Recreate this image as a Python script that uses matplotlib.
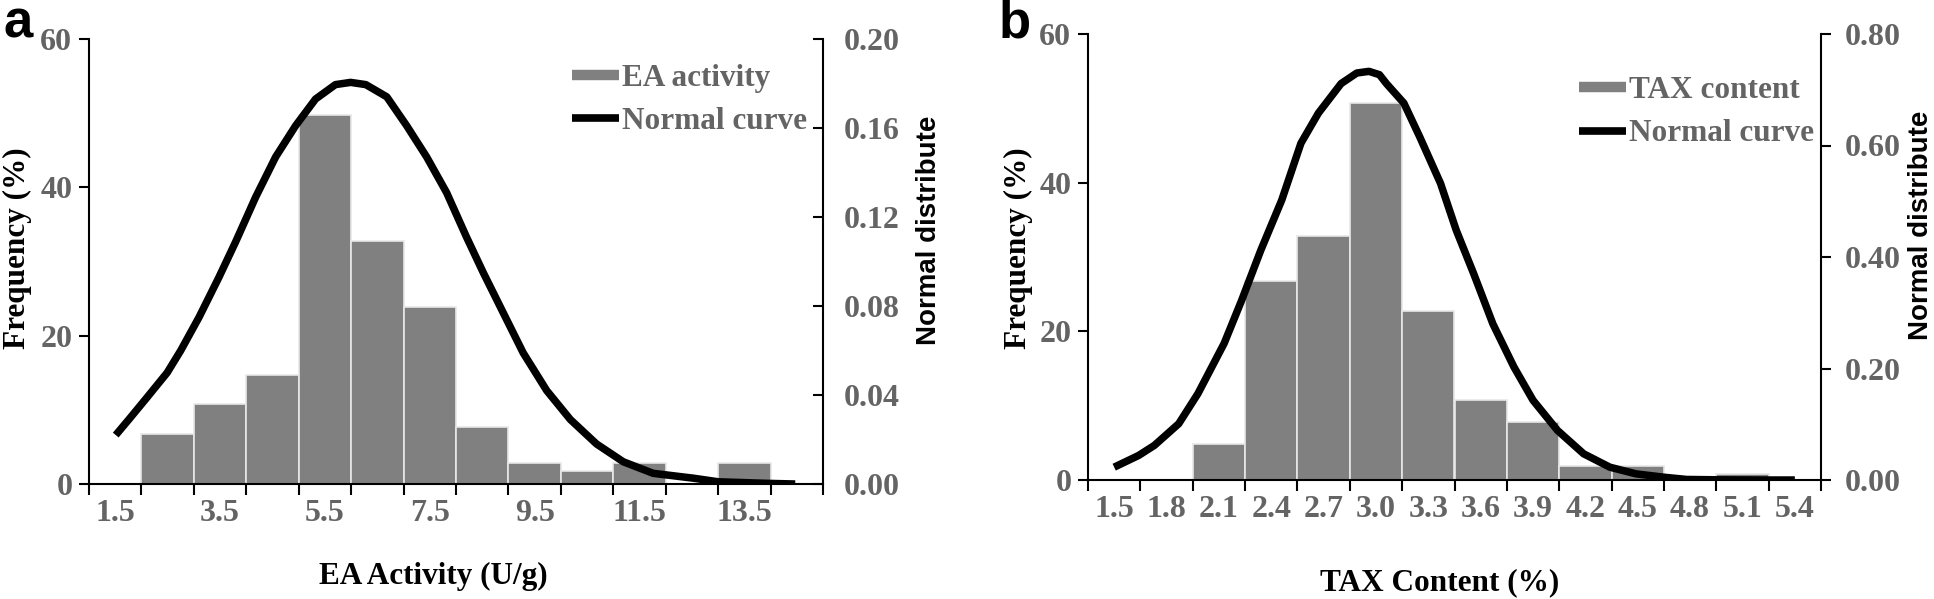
import numpy as np
import matplotlib
matplotlib.use("Agg")
import matplotlib.pyplot as plt
from matplotlib.lines import Line2D

# --- panel a: EA activity (bins of width 1, labelled at bin centres) ---
ea_bins = [1.5, 2.5, 3.5, 4.5, 5.5, 6.5, 7.5, 8.5, 9.5, 10.5, 11.5, 12.5, 13.5, 14.5]
ea_freq = [0, 6.7, 10.8, 14.7, 49.8, 32.8, 23.9, 7.7, 2.8, 1.8, 2.8, 0, 2.8, 0]
ea_labels = ["1.5", "3.5", "5.5", "7.5", "9.5", "11.5", "13.5"]
# normal curve
ea_curve_x = [1.51, 1.76, 2.11, 2.49, 2.75, 3.10, 3.48, 3.80, 4.18, 4.56, 4.94, 5.32,
              5.70, 5.99, 6.28, 6.68, 7.06, 7.44, 7.82, 8.20, 8.52, 8.90, 9.28, 9.73,
              10.18, 10.68, 11.19, 11.76, 12.53, 13.00, 13.93, 14.47]
ea_curve_y = [0.022, 0.029, 0.039, 0.050, 0.060, 0.075, 0.093, 0.109, 0.129, 0.147,
              0.161, 0.173, 0.1795, 0.1805, 0.1795, 0.174, 0.161, 0.147, 0.131, 0.111,
              0.095, 0.077, 0.059, 0.042, 0.029, 0.018, 0.010, 0.0048, 0.0026, 0.0010,
              0.0003, 0.0]

# --- panel b: TAX content (bins of width 0.3) ---
tax_bins = [1.5, 1.8, 2.1, 2.4, 2.7, 3.0, 3.3, 3.6, 3.9, 4.2, 4.5, 4.8, 5.1, 5.4]
tax_freq = [0, 0, 4.9, 26.8, 32.8, 50.7, 22.8, 10.8, 7.8, 1.9, 1.9, 0, 0.8, 0]
tax_labels = ["1.5", "1.8", "2.1", "2.4", "2.7", "3.0", "3.3", "3.6", "3.9",
              "4.2", "4.5", "4.8", "5.1", "5.4"]
tax_curve_x = [1.50, 1.64, 1.73, 1.87, 1.98, 2.13, 2.23, 2.34, 2.46, 2.57, 2.67, 2.80,
               2.89, 2.96, 3.02, 3.06, 3.16, 3.25, 3.37, 3.46, 3.56, 3.67, 3.79, 3.90,
               4.04, 4.19, 4.34, 4.49, 4.65, 4.78, 4.95, 5.25, 5.40]
tax_curve_y = [0.023, 0.044, 0.062, 0.101, 0.155, 0.245, 0.322, 0.412, 0.502, 0.604,
               0.658, 0.711, 0.730, 0.733, 0.727, 0.711, 0.676, 0.616, 0.532, 0.448,
               0.370, 0.280, 0.203, 0.143, 0.089, 0.047, 0.023, 0.011, 0.005, 0.001,
               0.0004, 0.0, 0.0]

SERIF = "Liberation Serif"
SANS = "Liberation Sans"
GRAY_TXT = "#646464"
BAR = "#808080"

W, H = 1934, 599
fig = plt.figure(figsize=(W / 100, H / 100), dpi=100)


def panel(rect, bins, freq, width, labels, label_pos, cx, cy, rmax, rticks,
          xlabel, leg_label, rtick_dir, xlabel_pos, ylabel_pos, rlabel_x, leg_anchor):
    ax = fig.add_axes(rect)
    ax.bar(bins, freq, width=width, color=BAR, edgecolor="#e8e8e8", linewidth=1.2)

    edges = [b - width / 2 for b in bins] + [bins[-1] + width / 2]
    ax.set_xlim(edges[0], edges[-1])
    ax.set_ylim(0, 60)
    ax.set_xticks(edges)
    ax.set_xticklabels([])
    ax.set_xticks(label_pos, minor=True)
    ax.set_xticklabels(labels, minor=True)
    ax.tick_params(axis="x", which="major", direction="out", length=8, width=1.5)
    ax.tick_params(axis="x", which="minor", length=0, pad=11, labelsize=23,
                   labelcolor=GRAY_TXT)
    ax.set_yticks([0, 20, 40, 60])
    ax.tick_params(axis="y", direction="out", length=7, width=1.5, pad=5,
                   labelsize=23, labelcolor=GRAY_TXT)
    for t in ax.get_xticklabels(minor=True) + ax.get_yticklabels():
        t.set_fontfamily(SERIF)
        t.set_fontweight("bold")
    for s in ["top", "right"]:
        ax.spines[s].set_visible(False)
    for s in ["left", "bottom"]:
        ax.spines[s].set_linewidth(1.5)

    ax.set_ylabel("Frequency (%)", fontsize=22.5, fontfamily=SERIF, fontweight="bold")
    ax.yaxis.set_label_coords(*ylabel_pos)
    ax.set_xlabel(xlabel, fontsize=22.5, fontfamily=SERIF, fontweight="bold")
    ax.xaxis.set_label_coords(*xlabel_pos)

    ax2 = ax.twinx()
    ax2.plot(cx, cy, color="black", lw=5.4, solid_joinstyle="round",
             solid_capstyle="butt")
    ax2.set_ylim(0, rmax)
    ax2.set_yticks(rticks)
    ax2.set_yticklabels([f"{v:.2f}" for v in rticks])
    pad = 15 if rtick_dir == "in" else 10
    ax2.tick_params(axis="y", direction=rtick_dir, length=7, width=1.5, pad=pad,
                    labelsize=23, labelcolor=GRAY_TXT)
    for t in ax2.get_yticklabels():
        t.set_fontfamily(SERIF)
        t.set_fontweight("bold")
    for s in ["top", "left", "bottom"]:
        ax2.spines[s].set_visible(False)
    ax2.spines["right"].set_linewidth(1.5)
    ax2.set_ylabel("Normal distribute", fontsize=20, fontfamily=SANS,
                   fontweight="bold", rotation=90)
    ax2.yaxis.set_label_coords(rlabel_x, 0.57)

    handles = [Line2D([], [], color=BAR, lw=7.5, solid_capstyle="butt"),
               Line2D([], [], color="black", lw=5.5, solid_capstyle="butt")]
    leg = ax2.legend(handles, [leg_label, "Normal curve"], loc="upper right",
                     bbox_to_anchor=leg_anchor, frameon=False, handlelength=1.5,
                     handletextpad=0.1, labelspacing=0.45, borderaxespad=0.1,
                     prop={"family": SERIF, "weight": "bold", "size": 22.5})
    for t in leg.get_texts():
        t.set_color(GRAY_TXT)
    return ax, ax2


panel([89 / W, 1 - 484 / H, (823 - 89) / W, (484 - 39) / H],
      ea_bins, ea_freq, 1.0, ea_labels, ea_bins[::2], ea_curve_x, ea_curve_y,
      0.20, [0.0, 0.04, 0.08, 0.12, 0.16, 0.20], "EA Activity (U/g)",
      "EA activity", "in", (0.469, -0.175), (-0.078, 0.53), 1.127, (1.0, 0.98))

panel([1088 / W, 1 - 480 / H, (1821 - 1088) / W, (480 - 34) / H],
      tax_bins, tax_freq, 0.3, tax_labels, tax_bins, tax_curve_x, tax_curve_y,
      0.80, [0.0, 0.2, 0.4, 0.6, 0.8], "TAX Content (%)",
      "TAX content", "out", (0.48, -0.198), (-0.075, 0.52), 1.119, (1.012, 0.94))

fig.text(0.002, 1 - 37 / H, "a", fontsize=38, fontfamily=SANS, fontweight="bold",
         va="baseline", ha="left")
fig.text(999 / W, 1 - 37 / H, "b", fontsize=38, fontfamily=SANS, fontweight="bold",
         va="baseline", ha="left")

fig.savefig("out.png", dpi=100)
